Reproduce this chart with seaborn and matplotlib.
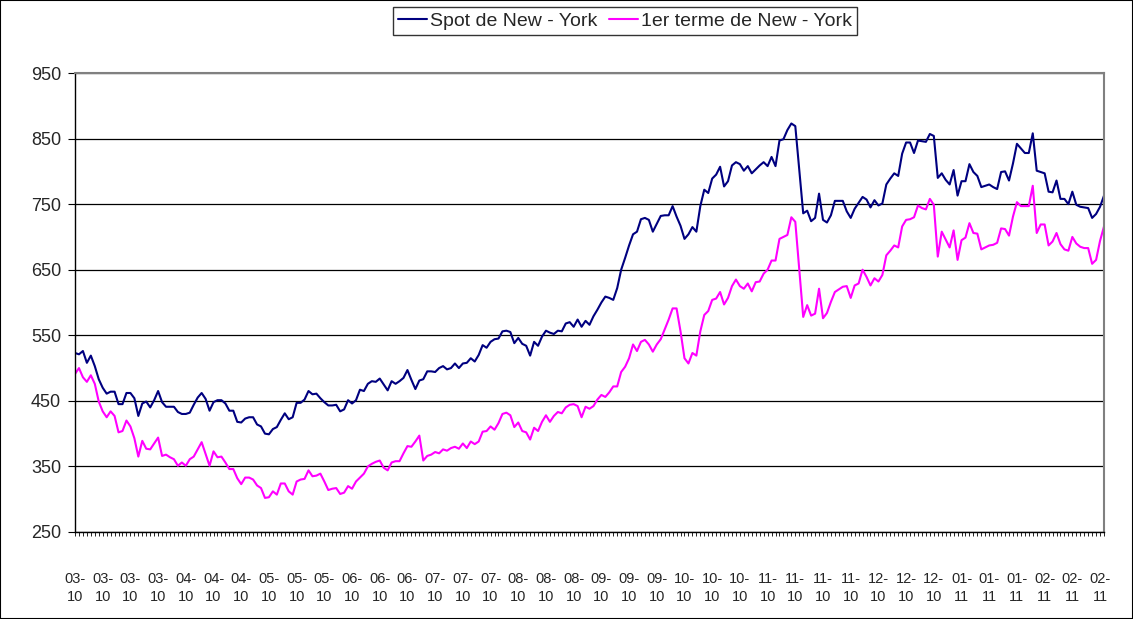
import matplotlib
matplotlib.use("Agg")
import matplotlib.pyplot as plt
from matplotlib.patches import Rectangle
import numpy as np
import pandas as pd
import seaborn as sns


# business days, March 2010 -> February 2011
START = "2010-03-01"
END = "2011-02-28"

SERIES = ["Spot de New - York", "1er terme de New - York"]
COLORS = ["#000080", "#FF00FF"]

SPOT = [
    523, 521, 526, 508, 519, 503, 483, 470, 461, 464, 464, 445, 445, 462, 462,
    454, 427, 446, 449, 440, 451, 465, 448, 441, 441, 441, 433, 430, 430, 432,
    444, 455, 462, 453, 435, 448, 451, 451, 446, 435, 435, 418, 417, 423, 425,
    425, 414, 411, 400, 399, 407, 410, 421, 431, 422, 425, 447, 447, 452, 465,
    460, 461, 454, 448, 443, 443, 444, 434, 437, 451, 446, 451, 467, 465, 476,
    480, 479, 484, 475, 466, 480, 476, 480, 485, 497, 482, 468, 481, 483,
    495, 495, 494, 500, 503, 498, 500, 507, 500, 507, 508, 515, 510, 520, 535,
    531, 540, 544, 545, 556, 557, 555, 538, 546, 537, 534, 519, 540, 534, 548,
    557, 554, 552, 557, 556, 568, 570, 563, 574, 563, 572, 566, 579,
    589, 600, 609, 607, 604, 622, 650, 668, 687, 704, 708, 727, 729, 726, 708,
    720, 732, 733, 733, 747, 731, 717, 697, 704, 715, 708, 747, 772, 767, 789,
    795, 807, 777, 785, 809, 814, 811, 801, 808, 797, 803, 809, 814,
    808, 822, 808, 847, 849, 863, 873, 869, 803, 736, 740, 724, 729, 766, 726,
    722, 733, 755, 755, 755, 739, 729, 743, 752, 761, 757, 745, 756, 748, 751,
    780, 789, 797, 793, 827, 844, 844, 828, 847, 846, 845, 857, 854,
    790, 797, 787, 780, 802, 763, 785, 785, 811, 799, 793, 776, 778, 780, 776,
    773, 799, 800, 786, 812, 842, 835, 828, 828, 858, 801, 799, 797, 769, 768,
    786, 758, 758, 750, 769, 749, 746, 745, 744, 729, 735, 746, 763,
]

TERME = [
    491, 500, 486, 479, 489, 476, 449, 434, 425, 434, 427, 402, 404, 420, 411,
    393, 365, 389, 377, 376, 385, 394, 366, 368, 364, 361, 351, 356, 351, 361,
    365, 376, 387, 369, 351, 373, 364, 365, 356, 346, 346, 332, 323, 333, 333,
    330, 321, 317, 302, 303, 312, 307, 324, 324, 312, 307, 327, 330, 331, 344,
    335, 336, 339, 327, 314, 316, 317, 308, 310, 320, 316, 327, 333, 339, 350,
    354, 357, 359, 348, 344, 356, 358, 358, 370, 381, 380, 388, 397, 359,
    366, 368, 372, 370, 376, 374, 378, 380, 377, 385, 378, 388, 384, 388, 403,
    404, 411, 406, 416, 430, 432, 428, 410, 417, 404, 402, 391, 409, 404, 418,
    428, 418, 427, 433, 431, 440, 444, 445, 442, 425, 441, 438, 442,
    452, 459, 456, 463, 472, 472, 494, 502, 515, 536, 526, 540, 543, 536, 525,
    536, 544, 559, 574, 591, 591, 556, 515, 507, 523, 519, 556, 581, 587, 604,
    606, 616, 597, 607, 625, 635, 625, 621, 629, 617, 631, 632, 644,
    650, 664, 664, 697, 700, 703, 730, 723, 650, 578, 596, 580, 583, 621, 576,
    584, 601, 616, 620, 624, 625, 607, 626, 629, 650, 639, 626, 637, 632, 642,
    672, 679, 687, 684, 716, 726, 727, 730, 748, 744, 742, 758, 749,
    670, 708, 696, 684, 710, 665, 695, 699, 721, 706, 705, 681, 684, 687, 688,
    691, 713, 712, 702, 731, 753, 747, 747, 747, 778, 706, 719, 719, 687, 693,
    706, 689, 681, 679, 700, 690, 685, 683, 683, 659, 665, 694, 716,
]

YTICKS = list(range(250, 951, 100))
LABEL_STEP = 7

W, H = 1133, 619


def main():
    dates = pd.bdate_range(START, END)
    df = pd.DataFrame({"idx": np.arange(len(dates)),
                       SERIES[0]: SPOT,
                       SERIES[1]: TERME})
    long = df.melt(id_vars="idx", var_name="serie", value_name="prix")

    sns.set_theme(style="white")
    plt.rcParams["font.family"] = ["Liberation Sans", "DejaVu Sans"]

    fig = plt.figure(figsize=(W / 100, H / 100), dpi=100)
    ax = fig.add_axes([75 / W, 1 - 532 / H, (1104 - 75) / W, (532 - 73) / H])

    sns.lineplot(data=long, x="idx", y="prix", hue="serie",
                 hue_order=SERIES, palette=COLORS, linewidth=1.5,
                 estimator=None, legend=False, ax=ax)

    ax.set_xlim(0, len(dates) - 1)
    ax.set_ylim(YTICKS[0], YTICKS[-1])
    ax.set_xlabel("")
    ax.set_ylabel("")

    # gridlines
    ax.set_yticks(YTICKS)
    ax.yaxis.grid(True, color="black", linewidth=0.9)
    ax.xaxis.grid(False)
    ax.set_axisbelow(True)
    ax.tick_params(axis="y", direction="out", length=5, width=0.8,
                   color="black", labelsize=13, pad=5, left=True)

    # category axis: a tick per day, a label every 7th day
    pos = np.arange(0, len(dates), LABEL_STEP)
    ax.set_xticks(pos)
    ax.set_xticklabels([f"{dates[i]:%m}-\n{dates[i]:%y}" for i in pos],
                       fontsize=10.5, linespacing=1.3)
    ax.set_xticks(np.arange(len(dates)), minor=True)
    ax.tick_params(axis="x", which="both", direction="out", length=3,
                   width=0.6, color="black", bottom=True, pad=26)

    for side in ["left", "bottom"]:
        ax.spines[side].set_color("black")
        ax.spines[side].set_linewidth(1.0)
    for side in ["top", "right"]:
        ax.spines[side].set_color("#808080")
        ax.spines[side].set_linewidth(1.5)

    handles = ax.get_lines()[:2]
    leg = fig.legend(handles, SERIES, loc="center",
                     bbox_to_anchor=(625 / W, 1 - 21 / H), ncol=2,
                     fontsize=14, frameon=True, fancybox=False,
                     edgecolor="black", handlelength=1.5,
                     handletextpad=0.15, columnspacing=0.6,
                     borderpad=0.25, borderaxespad=0)
    leg.get_frame().set_linewidth(1.0)

    fig.patches.append(Rectangle((0, 0), 1, 1, transform=fig.transFigure,
                                 fill=False, edgecolor="black",
                                 linewidth=1.5))

    fig.savefig("out.png", dpi=100)
    plt.close(fig)


if __name__ == "__main__":
    main()
